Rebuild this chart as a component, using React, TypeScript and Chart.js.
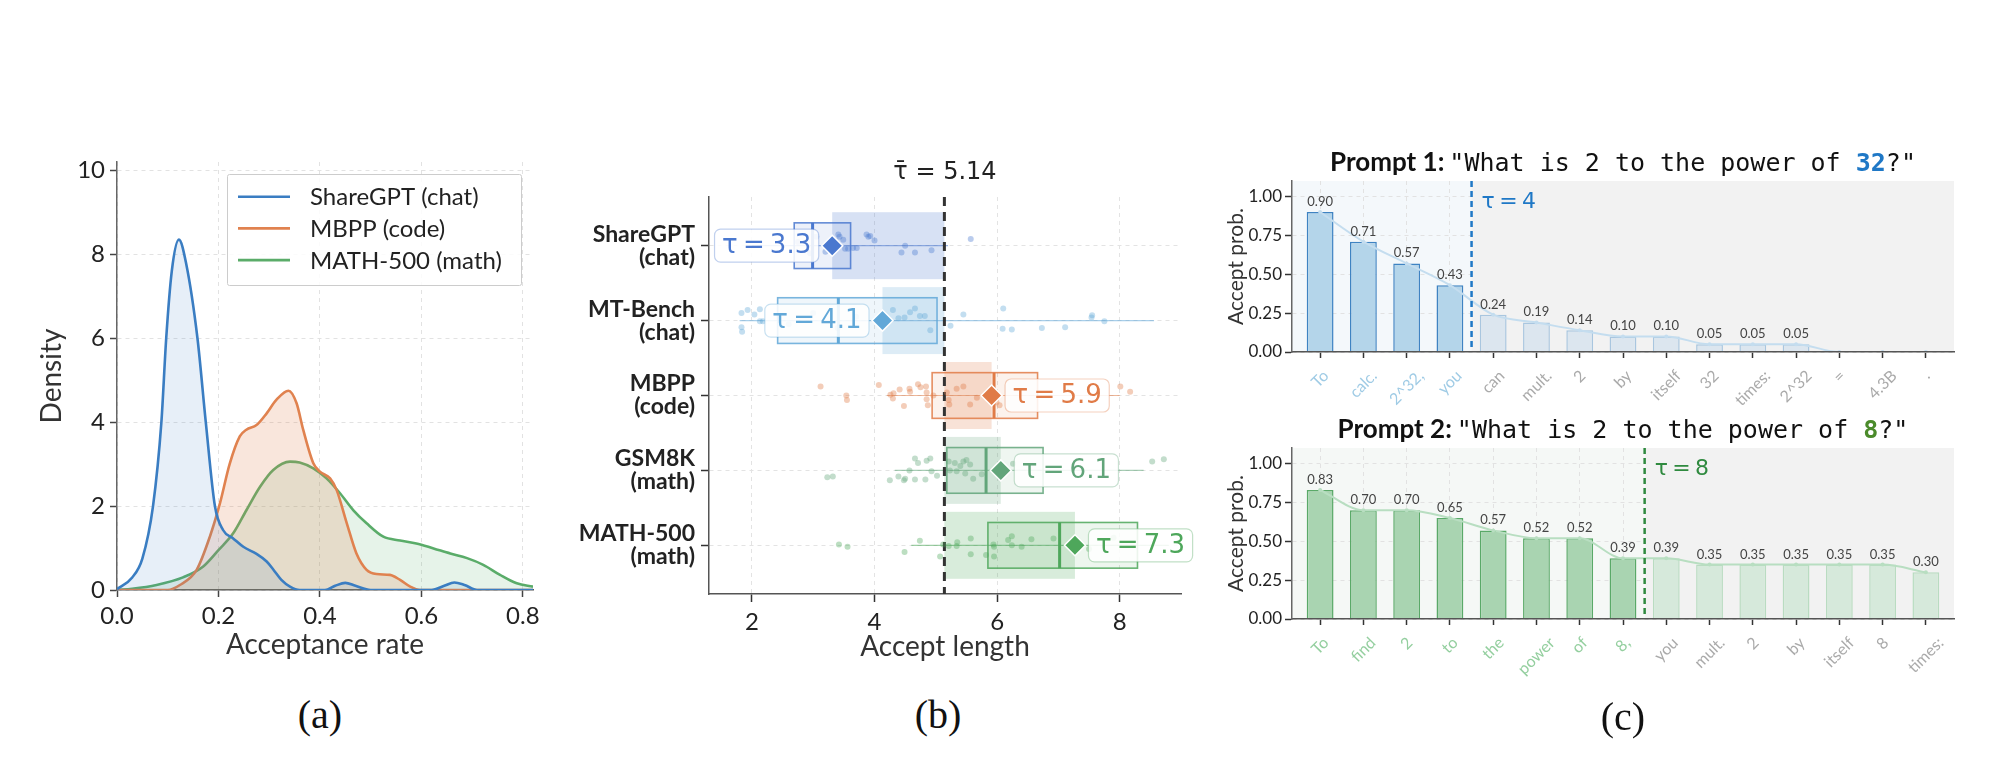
import React, { useEffect, useRef } from "react";
import { Chart, registerables } from "chart.js";

Chart.register(...registerables);
Chart.defaults.font.family = "Lato, 'DejaVu Sans', sans-serif";
Chart.defaults.color = "#222";

const SANS = "Lato, 'DejaVu Sans', sans-serif";
const MATH = "'DejaVu Sans', sans-serif";
const MONO = "'DejaVu Sans Mono', monospace";
const THIN = "\u2009";

// ---------- (a) density of the per-prompt acceptance rate ----------
const shareGptRate = [0, 0.03, 0.05, 0.071, 0.0875, 0.097, 0.108, 0.122, 0.136, 0.1586, 0.175, 0.193, 0.209, 0.229, 0.249, 0.275, 0.295, 0.308, 0.324, 0.341, 0.36, 0.41, 0.43, 0.45, 0.47, 0.5, 0.62, 0.645, 0.665, 0.685, 0.71, 0.82];
const shareGptDensity = [0.02, 0.3, 0.75, 2.0, 4.0, 6.0, 7.6, 8.35, 7.8, 6.0, 4.0, 2.0, 1.43, 1.23, 1.03, 0.86, 0.68, 0.49, 0.24, 0.08, 0, 0, 0.1, 0.17, 0.1, 0, 0, 0.1, 0.18, 0.12, 0, 0];
const mbppRate = [0, 0.1, 0.124, 0.157, 0.183, 0.203, 0.222, 0.242, 0.255, 0.275, 0.295, 0.314, 0.338, 0.354, 0.367, 0.387, 0.4, 0.42, 0.433, 0.453, 0.472, 0.492, 0.512, 0.538, 0.558, 0.578, 0.597, 0.82];
const mbppDensity = [0, 0, 0.12, 0.48, 1.27, 2.07, 3.0, 3.66, 3.82, 3.93, 4.21, 4.53, 4.75, 4.45, 3.82, 3.02, 2.82, 2.66, 2.38, 1.59, 0.87, 0.48, 0.38, 0.36, 0.24, 0.08, 0, 0];
const math500Rate = [0, 0.03, 0.078, 0.13, 0.17, 0.2, 0.229, 0.255, 0.282, 0.308, 0.341, 0.36, 0.387, 0.413, 0.44, 0.466, 0.492, 0.525, 0.558, 0.59, 0.624, 0.657, 0.69, 0.722, 0.755, 0.788, 0.82];
const math500Density = [0, 0.03, 0.12, 0.3, 0.56, 0.95, 1.35, 1.9, 2.46, 2.86, 3.06, 3.04, 2.9, 2.66, 2.3, 1.9, 1.59, 1.27, 1.18, 1.11, 0.99, 0.87, 0.76, 0.6, 0.36, 0.16, 0.08];
const densityLabels = ["ShareGPT (chat)", "MBPP (code)", "MATH-500 (math)"];
const densityColors = ["#3a7dc2", "#e0824f", "#5aac69"];

// ---------- (b) accept length per benchmark ----------
const benchNames = [["ShareGPT", "(chat)"], ["MT-Bench", "(chat)"], ["MBPP", "(code)"], ["GSM8K", "(math)"], ["MATH-500", "(math)"]];
const meanAccept = [3.31, 4.13, 5.91, 6.06, 7.27];
const globalMean = 5.14;
const boxQ1 = [2.69, 2.42, 4.94, 5.18, 5.85];
const boxMedian = [2.99, 3.41, 5.95, 5.82, 7.02];
const boxQ3 = [3.61, 5.02, 6.66, 6.75, 8.29];
const whiskerLow = [2.0, 1.8, 4.2, 4.33, 4.6];
const whiskerHigh = [5.2, 8.56, 8.0, 8.39, 8.8];
const benchColors = ["#4a78cf", "#62a8d8", "#e07b47", "#62a57a", "#4ea75b"];

const shareGptLen = [2.75, 2.95, 3.05, 3.2, 3.41, 3.43, 3.49, 3.52, 3.57, 3.65, 3.71, 3.87, 3.9, 3.93, 4.0, 4.44, 4.5, 4.66, 4.93, 5.57];
const shareGptJitter = [-0.05, 0.1, -0.12, 0.08, -0.15, -0.12, -0.08, 0.04, 0.04, 0.03, 0.03, -0.15, -0.12, -0.13, -0.07, 0.09, 0.0, 0.09, 0.06, -0.09];
const mtBenchLen = [1.83, 1.83, 1.84, 1.93, 2.04, 2.13, 2.13, 2.18, 2.6, 3.0, 3.4, 3.7, 4.3, 4.39, 4.49, 4.58, 4.66, 4.74, 4.82, 4.91, 5.24, 5.45, 6.1, 6.09, 6.24, 6.73, 7.11, 7.55, 7.54, 7.75];
const mtBenchJitter = [-0.1, 0.09, 0.15, -0.14, -0.08, 0.01, -0.15, 0.01, 0.05, -0.1, 0.1, -0.05, -0.14, -0.03, -0.04, -0.11, -0.16, -0.06, -0.06, 0.13, 0.07, -0.08, -0.16, 0.11, 0.12, 0.1, 0.09, -0.07, -0.04, 0.01];
const mbppLen = [3.12, 3.54, 3.55, 4.07, 4.26, 4.3, 4.31, 4.41, 4.48, 4.57, 4.58, 4.71, 4.75, 4.84, 4.85, 4.85, 4.87, 4.96, 5.18, 5.21, 5.22, 5.34, 5.45, 5.56, 5.67, 5.99, 6.04, 8.01, 8.17];
const mbppJitter = [-0.12, 0.0, 0.06, -0.14, -0.01, 0.04, -0.03, -0.08, 0.14, -0.09, -0.05, -0.15, -0.11, -0.12, -0.04, 0.05, 0.13, 0.0, -0.04, 0.06, 0.12, -0.09, -0.12, 0.12, 0.03, 0.09, 0.13, -0.12, -0.05];
const gsm8kLen = [3.23, 3.32, 4.25, 4.39, 4.48, 4.5, 4.57, 4.66, 4.66, 4.71, 4.83, 4.85, 4.91, 4.93, 5.02, 5.21, 5.23, 5.31, 5.34, 5.4, 5.45, 5.48, 5.5, 5.56, 5.61, 5.75, 6.1, 6.26, 8.53, 8.72];
const gsm8kJitter = [0.09, 0.08, 0.13, 0.08, 0.13, 0.11, 0.0, -0.16, 0.12, -0.1, 0.12, -0.13, -0.16, 0.01, 0.07, -0.12, 0.0, -0.1, 0.01, -0.06, -0.12, 0.04, -0.14, -0.08, 0.11, 0.05, 0.03, -0.09, -0.12, -0.15];
const math500Len = [3.42, 3.56, 4.49, 4.74, 5.07, 5.12, 5.21, 5.34, 5.35, 5.57, 5.57, 5.82, 5.94, 5.95, 5.95, 6.18, 6.24, 6.24, 6.4, 6.56, 6.92, 7.5, 7.9];
const math500Jitter = [-0.01, 0.02, 0.09, -0.06, 0.15, -0.01, 0.01, 0.01, -0.04, -0.09, 0.12, 0.13, -0.01, 0.02, 0.15, -0.07, -0.12, 0.0, 0.02, -0.08, -0.09, 0.05, -0.1];

// ---------- (c) per-token acceptance probability for two prompts ----------
const promptStem = "What is 2 to the power of ";
const prompt1Exponent = "32";
const prompt1Tokens = ["To", "calc.", "2^32,", "you", "can", "mult.", "2", "by", "itself", "32", "times:", "2^32", "=", "4.3B", "."];
const prompt1Probs = [0.9, 0.71, 0.57, 0.43, 0.24, 0.19, 0.14, 0.1, 0.1, 0.05, 0.05, 0.05, 0, 0, 0];
const prompt1Accepted = 4;
const prompt2Exponent = "8";
const prompt2Tokens = ["To", "find", "2", "to", "the", "power", "of", "8,", "you", "mult.", "2", "by", "itself", "8", "times:"];
const prompt2Probs = [0.83, 0.7, 0.7, 0.65, 0.57, 0.52, 0.52, 0.39, 0.39, 0.35, 0.35, 0.35, 0.35, 0.35, 0.3];
const prompt2Accepted = 8;

const bluePanel = {
  accFill: "#b4d5ea", accBorder: "#3f83c2", rejFill: "#dce6ef", rejBorder: "#a9c6df",
  line: "#c4ddef", accText: "#9fcbe5", tau: "#1f78c6", leftBg: "#f4f8fb", exponent: "#1f78c6",
};
const greenPanel = {
  accFill: "#a9d4b1", accBorder: "#5aa968", rejFill: "#d6e9db", rejBorder: "#b9dcc1",
  line: "#b8dec1", accText: "#94cf9f", tau: "#2f8a3f", leftBg: "#f5f8f6", exponent: "#4b8b2b",
};

function rgba(hex: string, a: number) {
  const n = parseInt(hex.slice(1), 16);
  return `rgba(${(n >> 16) & 255},${(n >> 8) & 255},${n & 255},${a})`;
}
const fixWidth = (w: number) => (scale: any) => { scale.width = w; };
const fixHeight = (h: number) => (scale: any) => { scale.height = h; };

// ----- (a) -----
const densityLegend = {
  id: "densityLegend",
  afterDatasetsDraw(chart: any) {
    const { ctx, chartArea: ca } = chart;
    const x0 = ca.left + 110, y0 = ca.top + 12, w = ca.right - 12 - x0, h = 111;
    ctx.save();
    ctx.fillStyle = "rgba(255,255,255,0.85)";
    ctx.strokeStyle = "#cccccc";
    ctx.lineWidth = 1;
    ctx.beginPath();
    ctx.roundRect(x0 + 0.5, y0 + 0.5, w, h, 2);
    ctx.fill();
    ctx.stroke();
    ctx.font = `24px ${SANS}`;
    ctx.textBaseline = "middle";
    densityLabels.forEach((label, i) => {
      const yy = y0 + 22.7 + i * 31.7;
      ctx.strokeStyle = densityColors[i];
      ctx.lineWidth = 2.6;
      ctx.beginPath();
      ctx.moveTo(ca.left + 121, yy);
      ctx.lineTo(ca.left + 173, yy);
      ctx.stroke();
      ctx.fillStyle = "#222";
      ctx.fillText(label, ca.left + 193, yy + 1);
    });
    ctx.restore();
  },
};

function densityConfig() {
  const series = [
    { xs: shareGptRate, ys: shareGptDensity, fillAlpha: 0.12 },
    { xs: mbppRate, ys: mbppDensity, fillAlpha: 0.2 },
    { xs: math500Rate, ys: math500Density, fillAlpha: 0.15 },
  ];
  return {
    type: "line",
    data: {
      datasets: series.map((s, i) => ({
        label: densityLabels[i],
        data: s.xs.map((x, k) => ({ x, y: s.ys[k] })),
        borderColor: densityColors[i],
        borderWidth: 2.6,
        backgroundColor: rgba(densityColors[i], s.fillAlpha),
        fill: "origin",
        pointRadius: 0,
        cubicInterpolationMode: "monotone",
      })),
    },
    options: {
      responsive: false,
      animation: false,
      events: [],
      layout: { padding: { top: 22, right: 27, left: 0, bottom: 0 } },
      plugins: { legend: { display: false }, tooltip: { enabled: false } },
      scales: {
        x: {
          type: "linear", min: 0, max: 0.82,
          ticks: { stepSize: 0.2, includeBounds: false, padding: 5, font: { size: 24 }, color: "#222", callback: (v: any) => Number(v).toFixed(1) },
          grid: { color: "#e2e2e2", lineWidth: 1, tickLength: 7, tickColor: "#444", tickWidth: 1.5 },
          border: { color: "#555", width: 1.5, dash: [4, 4] },
          title: { display: true, text: "Acceptance rate", font: { size: 28 }, color: "#333", padding: { top: 0, bottom: 18 } },
          afterFit: fixHeight(90),
        },
        y: {
          type: "linear", min: 0, max: 10.2,
          ticks: { stepSize: 2, includeBounds: false, padding: 5, font: { size: 24 }, color: "#222" },
          grid: { color: "#e2e2e2", lineWidth: 1, tickLength: 7, tickColor: "#444", tickWidth: 1.5 },
          border: { color: "#666", width: 1.5, dash: [4, 4] },
          title: { display: true, text: "Density", font: { size: 28 }, color: "#333", padding: { top: 35, bottom: 0 } },
          afterFit: fixWidth(117),
        },
      },
    },
    plugins: [densityLegend],
  };
}

// ----- (b) -----
const benchDecor = {
  id: "benchDecor",
  beforeDatasetsDraw(chart: any) {
    const { ctx, chartArea: ca, scales: { x, y } } = chart;
    const unit = Math.abs(y.getPixelForValue(1) - y.getPixelForValue(0));
    const band = unit * 0.447, half = unit * 0.305;
    const g = x.getPixelForValue(globalMean);
    ctx.save();
    ctx.beginPath();
    ctx.rect(ca.left, ca.top, ca.right - ca.left, ca.bottom - ca.top);
    ctx.clip();
    benchNames.forEach((_, i) => {
      const c = benchColors[i];
      const yc = y.getPixelForValue(i);
      // band between the benchmark mean and the overall mean
      const m = x.getPixelForValue(meanAccept[i]);
      ctx.fillStyle = rgba(c, 0.22);
      ctx.fillRect(Math.min(m, g), yc - band, Math.abs(g - m), band * 2);
      // whiskers
      ctx.strokeStyle = rgba(c, 0.55);
      ctx.lineWidth = 1.2;
      ctx.beginPath();
      ctx.moveTo(x.getPixelForValue(whiskerLow[i]), yc);
      ctx.lineTo(x.getPixelForValue(whiskerHigh[i]), yc);
      ctx.stroke();
      // inter-quartile box
      const q1 = x.getPixelForValue(boxQ1[i]), q3 = x.getPixelForValue(boxQ3[i]);
      ctx.fillStyle = rgba(c, 0.1);
      ctx.fillRect(q1, yc - half, q3 - q1, half * 2);
      ctx.strokeStyle = rgba(c, 0.85);
      ctx.lineWidth = 1.6;
      ctx.strokeRect(q1, yc - half, q3 - q1, half * 2);
      // median
      const md = x.getPixelForValue(boxMedian[i]);
      ctx.strokeStyle = c;
      ctx.lineWidth = 3;
      ctx.beginPath();
      ctx.moveTo(md, yc - half);
      ctx.lineTo(md, yc + half);
      ctx.stroke();
    });
    ctx.setLineDash([9, 6]);
    ctx.strokeStyle = "#333";
    ctx.lineWidth = 3;
    ctx.beginPath();
    ctx.moveTo(g, ca.top);
    ctx.lineTo(g, ca.bottom);
    ctx.stroke();
    ctx.restore();
  },
  afterDatasetsDraw(chart: any) {
    const { ctx, chartArea: ca, scales: { x, y } } = chart;
    ctx.save();
    ctx.font = `26px ${MATH}`;
    ctx.textBaseline = "middle";
    ctx.textAlign = "center";
    meanAccept.forEach((m, i) => {
      const c = benchColors[i];
      const text = `τ${THIN}=${THIN}${m.toFixed(1)}`;
      const w = ctx.measureText(text).width + 15, h = 33;
      const px = x.getPixelForValue(m), yc = y.getPixelForValue(i);
      const left = m < globalMean ? px - 13.5 - w : px + 13.5;
      ctx.beginPath();
      ctx.roundRect(left, yc - h / 2, w, h, 6);
      ctx.fillStyle = "rgba(255,255,255,0.88)";
      ctx.fill();
      ctx.strokeStyle = rgba(c, 0.35);
      ctx.lineWidth = 1.2;
      ctx.stroke();
      ctx.fillStyle = c;
      ctx.fillText(text, left + w / 2, yc + 1);
    });
    ctx.font = `24px ${MATH}`;
    ctx.fillStyle = "#222";
    ctx.textBaseline = "alphabetic";
    ctx.fillText(`τ\u0304 = ${globalMean.toFixed(2)}`, (ca.left + ca.right) / 2, ca.top - 18);
    ctx.restore();
  },
};

function acceptLengthConfig() {
  const samples = [
    [shareGptLen, shareGptJitter],
    [mtBenchLen, mtBenchJitter],
    [mbppLen, mbppJitter],
    [gsm8kLen, gsm8kJitter],
    [math500Len, math500Jitter],
  ];
  const datasets: any[] = samples.map(([xs, js], i) => ({
    data: xs.map((v, k) => ({ x: v, y: i + js[k] })),
    pointRadius: 3,
    pointBackgroundColor: rgba(benchColors[i], 0.38),
    pointBorderWidth: 0,
    order: 2,
  }));
  datasets.push({
    data: meanAccept.map((m, i) => ({ x: m, y: i })),
    pointStyle: "rectRot",
    pointRadius: 10.5,
    pointBackgroundColor: benchColors,
    pointBorderColor: "#ffffff",
    pointBorderWidth: 1.5,
    order: 1,
  });
  return {
    type: "scatter",
    data: { datasets },
    options: {
      responsive: false,
      animation: false,
      events: [],
      layout: { padding: { top: 57, right: 19, left: 0, bottom: 0 } },
      plugins: { legend: { display: false }, tooltip: { enabled: false } },
      scales: {
        x: {
          type: "linear", min: 1.3, max: 9.0,
          ticks: { stepSize: 2, includeBounds: false, padding: 6, font: { size: 24 }, color: "#222" },
          grid: { color: "#e3e3e3", lineWidth: 1, tickLength: 8, tickColor: "#333", tickWidth: 1.5 },
          border: { color: "#555", width: 1.5, dash: [4, 4] },
          title: { display: true, text: "Accept length", font: { size: 28 }, color: "#333", padding: { top: 0, bottom: 16 } },
          afterFit: fixHeight(86),
        },
        y: {
          type: "linear", min: -0.65, max: 4.65, reverse: true,
          ticks: {
            stepSize: 1, includeBounds: false, padding: 6, color: "#222",
            font: { size: 23, weight: "bold", lineHeight: 1.0 },
            callback: (v: any) => benchNames[Math.round(Number(v))] || "",
          },
          grid: { color: "#e3e3e3", lineWidth: 1, tickLength: 8, tickColor: "#333", tickWidth: 1.5 },
          border: { color: "#555", width: 1.5, dash: [4, 4] },
          afterFit: fixWidth(149),
        },
      },
    },
    plugins: [benchDecor],
  };
}

// ----- (c) -----
function tokenDecor(no: number, exponent: string, tokens: string[], probs: number[], accepted: number, st: any) {
  const tauValue = accepted - 0.5;
  return {
    id: "tokenDecor",
    beforeDraw(chart: any) {
      const { ctx, chartArea: ca, scales: { x } } = chart;
      const t = x.getPixelForValue(tauValue);
      ctx.save();
      ctx.fillStyle = st.leftBg;
      ctx.fillRect(ca.left, ca.top, t - ca.left, ca.bottom - ca.top);
      ctx.restore();
    },
    beforeDatasetsDraw(chart: any) {
      const { ctx, chartArea: ca, scales: { x } } = chart;
      const t = x.getPixelForValue(tauValue);
      ctx.save();
      ctx.fillStyle = "#f2f2f2";
      ctx.fillRect(t, ca.top, ca.right - t, ca.bottom - ca.top);
      ctx.restore();
    },
    afterDatasetsDraw(chart: any) {
      const { ctx, chartArea: ca, scales: { x, y } } = chart;
      ctx.save();
      ctx.font = `13px ${SANS}`;
      ctx.fillStyle = "#444";
      ctx.textAlign = "center";
      probs.forEach((v, i) => {
        if (v <= 0) return;
        ctx.fillText(v.toFixed(2), x.getPixelForValue(i), y.getPixelForValue(v) - 6);
      });
      const t = x.getPixelForValue(tauValue);
      ctx.setLineDash([6, 4]);
      ctx.strokeStyle = st.tau;
      ctx.lineWidth = 2.5;
      ctx.beginPath();
      ctx.moveTo(t, ca.top);
      ctx.lineTo(t, ca.bottom);
      ctx.stroke();
      ctx.setLineDash([]);
      ctx.font = `22px ${MATH}`;
      ctx.fillStyle = st.tau;
      ctx.textAlign = "left";
      ctx.fillText(`τ${THIN}=${THIN}${accepted}`, t + 10, ca.top + 27);
      ctx.restore();
    },
    afterDraw(chart: any) {
      const { ctx, chartArea: ca, scales: { x } } = chart;
      // token labels at 45 degrees, centred under each tick
      tokens.forEach((tok, i) => {
        ctx.save();
        ctx.font = `16px ${SANS}`;
        const w = ctx.measureText(tok).width;
        const d = (w + 12) / (2 * Math.SQRT2);
        ctx.translate(x.getPixelForValue(i), ca.bottom + 17 + d);
        ctx.rotate(-Math.PI / 4);
        ctx.fillStyle = i < accepted ? st.accText : "#aaaaaa";
        ctx.textAlign = "center";
        ctx.textBaseline = "middle";
        ctx.fillText(tok, 0, 0);
        ctx.restore();
      });
      // title
      ctx.save();
      const segs = [
        { text: `Prompt ${no}:`, font: `bold 26px ${SANS}`, color: "#111", gap: 5 },
        { text: `"${promptStem}`, font: `25px ${MONO}`, color: "#111", gap: 0 },
        { text: exponent, font: `bold 25px ${MONO}`, color: st.exponent, gap: 0 },
        { text: `?"`, font: `25px ${MONO}`, color: "#111", gap: 0 },
      ];
      let total = 0;
      const widths = segs.map((s) => {
        ctx.font = s.font;
        const w = ctx.measureText(s.text).width + s.gap;
        total += w;
        return w;
      });
      let cx = (ca.left + ca.right) / 2 - total / 2;
      ctx.textAlign = "left";
      ctx.textBaseline = "alphabetic";
      segs.forEach((s, i) => {
        ctx.font = s.font;
        ctx.fillStyle = s.color;
        ctx.fillText(s.text, cx, ca.top - 10);
        cx += widths[i];
      });
      ctx.restore();
    },
  };
}

function tokenConfig(no: number, exponent: string, tokens: string[], probs: number[], accepted: number, st: any, padTop: number, axisHeight: number) {
  const points = probs.map((v, i) => ({ x: i, y: v }));
  return {
    type: "bar",
    data: {
      datasets: [
        {
          type: "line",
          data: points,
          borderColor: st.line,
          borderWidth: 2,
          pointRadius: 2,
          pointBackgroundColor: st.line,
          pointBorderWidth: 0,
          cubicInterpolationMode: "monotone",
          order: 1,
        },
        {
          type: "bar",
          data: points,
          backgroundColor: probs.map((_, i) => (i < accepted ? st.accFill : st.rejFill)),
          borderColor: probs.map((_, i) => (i < accepted ? st.accBorder : st.rejBorder)),
          borderWidth: 1.5,
          barPercentage: 0.62,
          categoryPercentage: 1,
          order: 2,
        },
      ],
    },
    options: {
      responsive: false,
      animation: false,
      events: [],
      layout: { padding: { top: padTop, right: 46, left: 0, bottom: 0 } },
      plugins: { legend: { display: false }, tooltip: { enabled: false } },
      scales: {
        x: {
          type: "linear", min: -0.65, max: 14.65, offset: false,
          ticks: { stepSize: 1, includeBounds: false, display: false },
          grid: { offset: false, color: "#e2e2e2", lineWidth: 1, tickLength: 6, tickColor: "#333", tickWidth: 1.5, z: -1 },
          border: { color: "#555", width: 1.5, dash: [4, 4], z: 1 },
          afterFit: fixHeight(axisHeight),
        },
        y: {
          type: "linear", min: 0, max: 1.1,
          ticks: { stepSize: 0.25, includeBounds: false, padding: 3, font: { size: 17 }, color: "#222", callback: (v: any) => Number(v).toFixed(2) },
          grid: { color: "#e2e2e2", lineWidth: 1, tickLength: 7, tickColor: "#333", tickWidth: 1.5, z: -1 },
          border: { color: "#666", width: 1.5, dash: [4, 4], z: 1 },
          title: { display: true, text: "Accept prob.", font: { size: 21 }, color: "#333", padding: { top: 24, bottom: 0 } },
          afterFit: fixWidth(92),
        },
      },
    },
    plugins: [tokenDecor(no, exponent, tokens, probs, accepted, st)],
  };
}

type Box = { left: number; top: number; width: number; height: number };

function ChartCanvas({ box, build }: { box: Box; build: () => any }) {
  const ref = useRef<HTMLCanvasElement | null>(null);
  useEffect(() => {
    if (!ref.current) return;
    const chart = new Chart(ref.current, build());
    return () => chart.destroy();
  }, []);
  return (
    <canvas
      ref={ref}
      width={box.width}
      height={box.height}
      style={{ position: "absolute", left: box.left, top: box.top, width: box.width, height: box.height }}
    />
  );
}

function PanelTag({ x, y, text }: { x: number; y: number; text: string }) {
  return (
    <div
      style={{
        position: "absolute", left: x, top: y, transform: "translate(-50%, -50%)",
        font: "40px 'Liberation Serif', 'Times New Roman', serif", color: "#111", lineHeight: 1,
        whiteSpace: "nowrap",
      }}
    >
      {text}
    </div>
  );
}

export default function App() {
  return (
    <div style={{ position: "absolute", left: 0, top: 0, width: 2000, height: 760, background: "#fff", overflow: "hidden" }}>
      <ChartCanvas box={{ left: 0, top: 140, width: 560, height: 540 }} build={densityConfig} />
      <ChartCanvas box={{ left: 560, top: 140, width: 640, height: 540 }} build={acceptLengthConfig} />
      <ChartCanvas
        box={{ left: 1200, top: 140, width: 800, height: 290 }}
        build={() => tokenConfig(1, prompt1Exponent, prompt1Tokens, prompt1Probs, prompt1Accepted, bluePanel, 41, 78)}
      />
      <ChartCanvas
        box={{ left: 1200, top: 400, width: 800, height: 300 }}
        build={() => tokenConfig(2, prompt2Exponent, prompt2Tokens, prompt2Probs, prompt2Accepted, greenPanel, 48, 81)}
      />
      <PanelTag x={320} y={715} text="(a)" />
      <PanelTag x={938} y={715} text="(b)" />
      <PanelTag x={1623} y={717} text="(c)" />
    </div>
  );
}
